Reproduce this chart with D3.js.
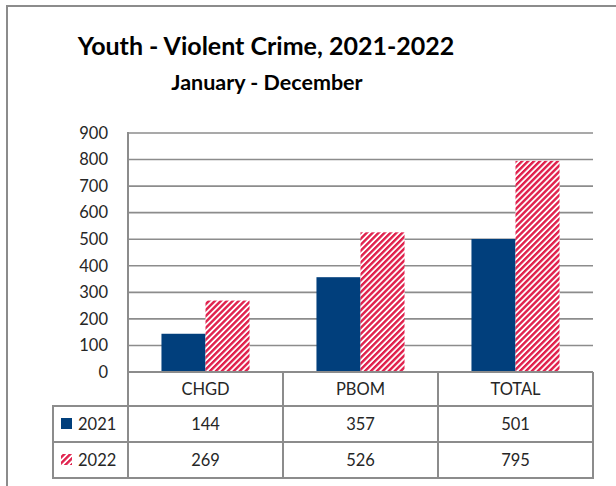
<!DOCTYPE html>
<html>
<head>
<meta charset="utf-8">
<script src="https://cdn.jsdelivr.net/npm/d3@7"></script>
<style>
  html, body { margin: 0; padding: 0; background: #fff; }
  svg { display: block; }
  text { font-family: Lato, "Open Sans", sans-serif; }
</style>
</head>
<body>
<svg id="chart" width="616" height="486"></svg>
<script>
const categories = ["CHGD", "PBOM", "TOTAL"];
const seriesNames = ["2021", "2022"];
const values2021 = [144, 357, 501];
const values2022 = [269, 526, 795];
const yTicks = [0, 100, 200, 300, 400, 500, 600, 700, 800, 900];
const title = "Youth - Violent Crime, 2021-2022";
const subtitle = "January - December";

(function () {
const svg = d3.select("#chart");
const gray = "#8c8c8c";
const blue = "#013f7c";
const red = "#e0204c";
const textColor = "#262626";

// pattern
const defs = svg.append("defs");
const pat = defs.append("pattern")
  .attr("id", "hatch").attr("patternUnits", "userSpaceOnUse")
  .attr("width", 4.2).attr("height", 4.2)
  .attr("patternTransform", "rotate(45)");
pat.append("rect").attr("width", 4.2).attr("height", 4.2).attr("fill", "#fff");
pat.append("rect").attr("width", 2.4).attr("height", 4.2).attr("fill", red);

// outer border
svg.append("rect").attr("x", 7).attr("y", 6).attr("width", 640).attr("height", 520)
  .attr("fill", "none").attr("stroke", gray).attr("stroke-width", 2);

// titles
svg.append("text").attr("x", 266).attr("y", 55).attr("text-anchor", "middle")
  .attr("font-weight", "bold").attr("font-size", 25).attr("fill", "#000").text(title);
svg.append("text").attr("x", 267).attr("y", 90).attr("text-anchor", "middle")
  .attr("font-weight", "bold").attr("font-size", 21.5).attr("fill", "#000").text(subtitle);

const pLeft = 128, pRight = 593, pTop = 133, pBottom = 372;
const x = d3.scaleBand().domain(categories).range([pLeft, pRight]).paddingInner(0).paddingOuter(0);
const xs = d3.scaleBand().domain(seriesNames).range([0, x.bandwidth()]).paddingInner(0).paddingOuter(0.76);
const y = d3.scaleLinear().domain([0, 900]).range([pBottom, pTop]);

// gridlines
svg.append("g").selectAll("line").data(yTicks.filter(d => d > 0)).join("line")
  .attr("x1", pLeft).attr("x2", pRight)
  .attr("y1", d => y(d)).attr("y2", d => y(d))
  .attr("stroke", gray).attr("stroke-width", 1.6);

// y axis labels
const yAxis = d3.axisLeft(y).tickValues(yTicks).tickSize(0).tickPadding(20);
const yg = svg.append("g").attr("transform", `translate(${pLeft},0)`).call(yAxis);
yg.select(".domain").remove();
yg.selectAll("text").attr("font-size", 16.5).attr("fill", textColor)
  .attr("font-family", "Lato, sans-serif");

// bars
const data = categories.map((c, i) => ({ c, v: [values2021[i], values2022[i]] }));
const groups = svg.append("g").selectAll("g").data(data).join("g")
  .attr("transform", d => `translate(${x(d.c)},0)`);
groups.selectAll("rect").data(d => d.v.map((v, j) => ({ s: seriesNames[j], v, j }))).join("rect")
  .attr("x", d => xs(d.s)).attr("width", xs.bandwidth())
  .attr("y", d => y(d.v)).attr("height", d => y(0) - y(d.v))
  .attr("fill", d => d.j === 0 ? blue : "url(#hatch)");

// table
const rowY = [372, 406, 442, 478];
const tableLeft = 53;
const tg = svg.append("g").attr("stroke", gray).attr("stroke-width", 2).attr("fill", "none");
tg.append("line").attr("x1", pLeft).attr("x2", pRight).attr("y1", rowY[0]).attr("y2", rowY[0]);
[1, 2, 3].forEach(i => tg.append("line").attr("x1", tableLeft - 1).attr("x2", pRight + 1)
  .attr("y1", rowY[i]).attr("y2", rowY[i]));
tg.append("line").attr("x1", pLeft).attr("x2", pLeft).attr("y1", pTop - 1).attr("y2", rowY[3]);
tg.append("line").attr("x1", tableLeft).attr("x2", tableLeft).attr("y1", rowY[1]).attr("y2", rowY[3]);
categories.forEach(c => {
  const xe = x(c) + x.bandwidth();
  tg.append("line").attr("x1", xe).attr("x2", xe).attr("y1", rowY[0]).attr("y2", rowY[3]);
});

// category labels
svg.append("g").selectAll("text").data(categories).join("text")
  .attr("x", d => x(d) + x.bandwidth() / 2).attr("y", (rowY[0] + rowY[1]) / 2)
  .attr("dy", "0.36em").attr("text-anchor", "middle")
  .attr("font-size", 16.5).attr("fill", textColor).text(d => d);

// value rows
[values2021, values2022].forEach((vals, r) => {
  const cy = (rowY[r + 1] + rowY[r + 2]) / 2;
  svg.append("g").selectAll("text").data(vals).join("text")
    .attr("x", (d, i) => x(categories[i]) + x.bandwidth() / 2).attr("y", cy)
    .attr("dy", "0.36em").attr("text-anchor", "middle")
    .attr("font-size", 16.5).attr("fill", textColor).text(d => d);
  svg.append("rect").attr("x", 61).attr("y", cy - 6).attr("width", 11).attr("height", 11)
    .attr("fill", r === 0 ? blue : "url(#hatch)");
  svg.append("text").attr("x", 78).attr("y", cy).attr("dy", "0.36em")
    .attr("font-size", 16.5).attr("fill", textColor).text(seriesNames[r]);
});
})();
</script>
</body>
</html>
